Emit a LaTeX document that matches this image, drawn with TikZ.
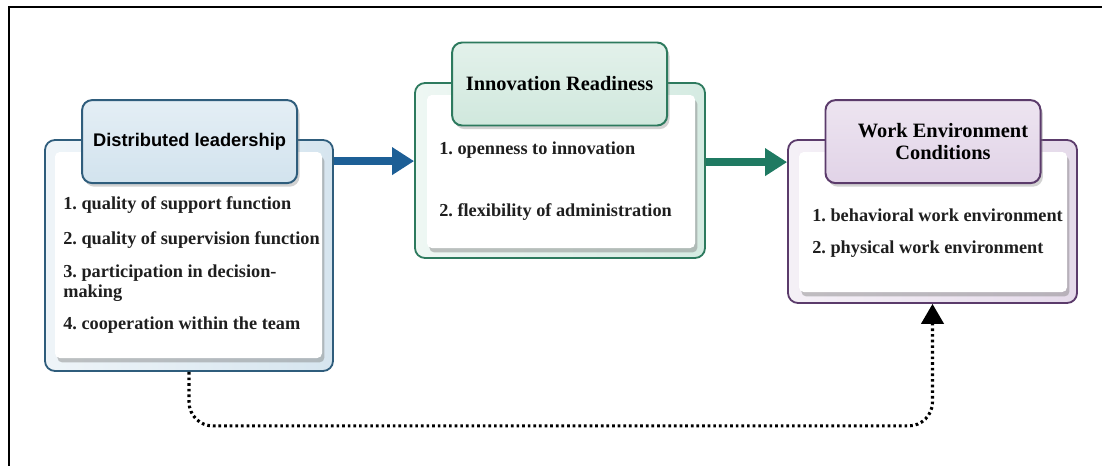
\documentclass[tikz,border=0pt]{standalone}
\usepackage{fontspec}
\setmainfont{Liberation Serif}
\newfontfamily\hdsans{Liberation Sans}
\usetikzlibrary{calc,positioning,shadows,arrows.meta}
\frenchspacing

\begin{document}
\begin{tikzpicture}[
        outer/.style={draw,line width=1.3pt,rounded corners=2.5mm},
        panel/.style={fill=white,rounded corners=1.2mm,
            drop shadow={opacity=0.45,shadow xshift=0.6mm,shadow yshift=-1.1mm}},
        head/.style={draw,line width=1.4pt,rounded corners=2.5mm,
            minimum width=5.375cm,minimum height=2.075cm,align=center,
            font=\fontsize{14.5}{16}\selectfont\bfseries,
            drop shadow={opacity=0.35,shadow xshift=0.6mm,shadow yshift=-0.9mm}},
        item/.style={anchor=west,align=left,inner sep=0pt,text=black!88,
            font=\fontsize{13}{14.5}\selectfont\bfseries},
        fat/.style={line width=5.5pt,-{Triangle[length=5.5mm,width=6.6mm]}},
        dotline/.style={line width=2.2pt,dash pattern=on 1.9pt off 2.1pt,
            rounded corners=6mm,-{Triangle[length=5mm,width=5.6mm]}}
    ]
    \definecolor{blline}{HTML}{2F5D7C}
    \definecolor{blfill}{HTML}{D6E5EF}
    \definecolor{blhead}{HTML}{D2E3EE}
    \definecolor{blarrow}{HTML}{1D5F96}
    \definecolor{grline}{HTML}{2D7A5E}
    \definecolor{grfill}{HTML}{D5EBE2}
    \definecolor{grhead}{HTML}{D0E8DD}
    \definecolor{grarrow}{HTML}{1F7A62}
    \definecolor{puline}{HTML}{5B3B6B}
    \definecolor{pufill}{HTML}{E5DAEA}
    \definecolor{puhead}{HTML}{E1D3E7}

    \useasboundingbox (0,0) rectangle (27.55,-11.65);
    \draw [line width=1.5pt] (27.55,-0.175) -- (0.225,-0.175) -- (0.225,-11.65);

    % distributed leadership
    \node (dl) [outer,draw=blline,left color=blfill!40,right color=blfill,
        minimum width=7.2cm,minimum height=5.775cm] at (4.725,-6.3875) {};
    \node (dlin) [panel,minimum width=6.675cm,minimum height=5.15cm] at (4.7125,-6.375) {};
    \node (dlhd) [head,draw=blline,top color=blhead!60,bottom color=blhead,
        font=\hdsans\fontsize{13}{15}\selectfont\bfseries] at (4.74,-3.54) {Distributed leadership};
    \node (dl1) [item] at (1.575,-5.125) {1. quality of support function};
    \node (dl2) [item] at (1.575,-6.0)   {2. quality of supervision function};
    \node (dl3) [item] at (1.575,-7.075) {3. participation in decision-\\making};
    \node (dl4) [item] at (1.575,-8.125) {4. cooperation within the team};

    % innovation readiness
    \node (ir) [outer,draw=grline,left color=grfill!40,right color=grfill,
        minimum width=7.25cm,minimum height=4.375cm] at (14,-4.2625) {};
    \node (irin) [panel,minimum width=6.7cm,minimum height=3.825cm] at (14.025,-4.2875) {};
    \node (irhd) [head,draw=grline,top color=grhead!60,bottom color=grhead] at (13.99,-2.1) {Innovation Readiness};
    \node (ir1) [item] at (10.975,-3.75) {1. openness to innovation};
    \node (ir2) [item] at (10.975,-5.3)  {2. flexibility of administration};

    % work environment
    \node (we) [outer,draw=puline,left color=pufill!40,right color=pufill,
        minimum width=7.225cm,minimum height=4.075cm] at (23.3125,-5.5375) {};
    \node (wein) [panel,minimum width=6.7cm,minimum height=3.5cm] at (23.325,-5.55) {};
    \node (wehd) [head,draw=puline,top color=puhead!60,bottom color=puhead] at (23.325,-3.54)
        {\hspace*{5mm}Work Environment\\\hspace*{5mm}Conditions};
    \node (we1) [item] at (20.3,-5.375) {1. behavioral work environment};
    \node (we2) [item] at (20.3,-6.225) {2. physical work environment};

    % links
    \coordinate (dlout) at ([yshift=-5.5mm]dl.north east);
    \coordinate (wein0) at ([yshift=-5.75mm]we.north west);
    \draw [fat,blarrow] (dlout) -- (dlout -| ir.west);
    \draw [fat,grarrow] (wein0 -| ir.east) -- (wein0);
    \draw [dotline] (dl.south) -- ++(0,-1.35) -| (we.south);
\end{tikzpicture}
\end{document}
